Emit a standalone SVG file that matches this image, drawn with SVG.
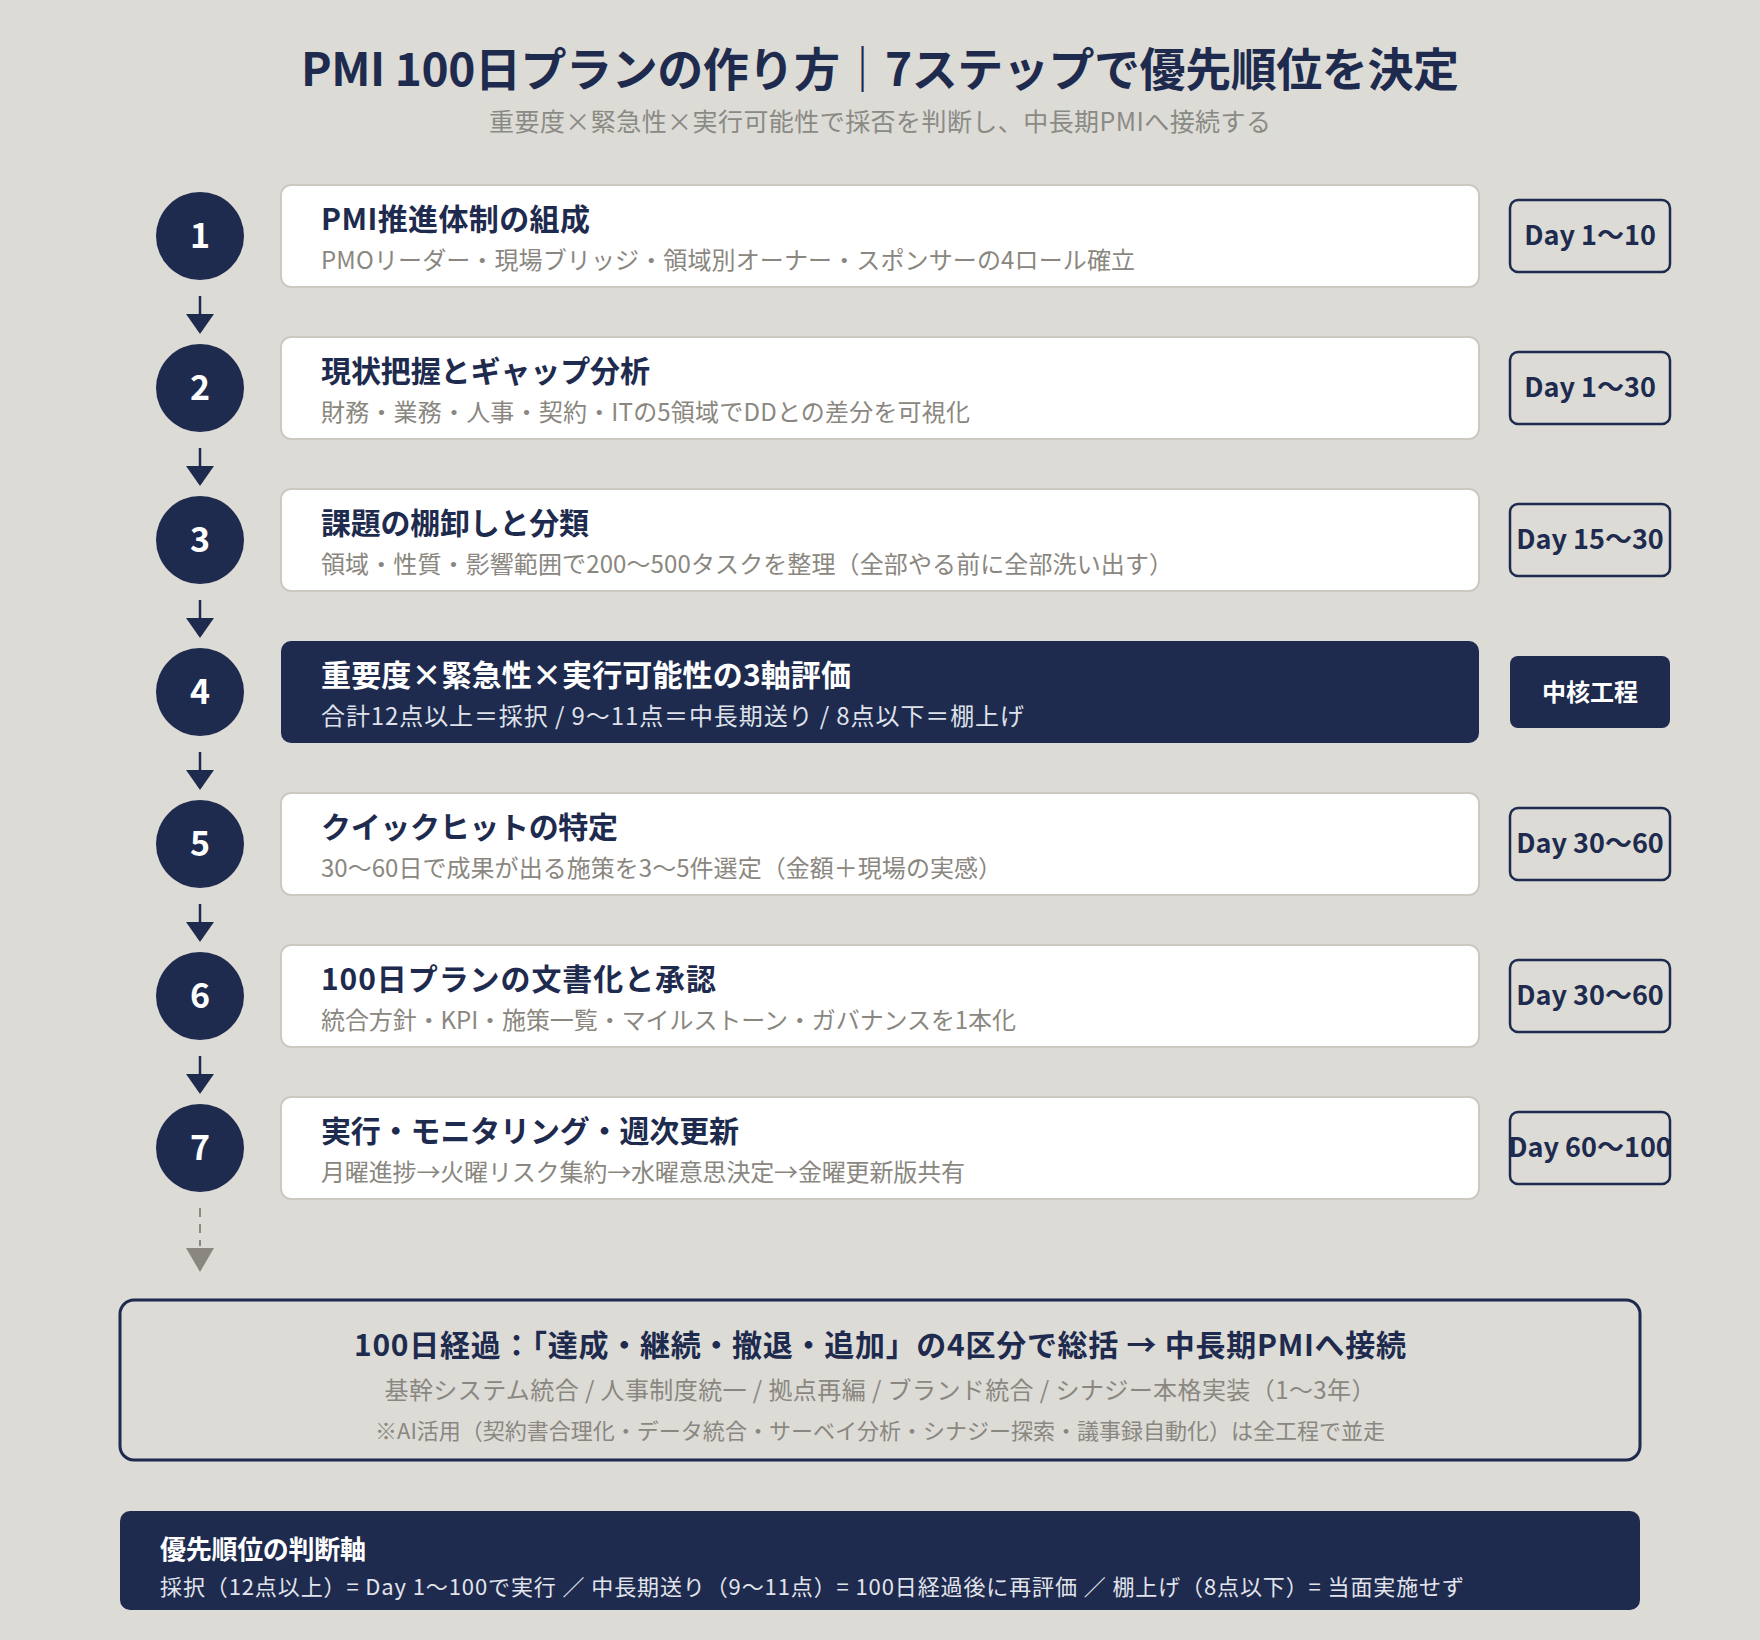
<svg xmlns="http://www.w3.org/2000/svg" width="1760" height="1640" viewBox="0 0 1760 1640">
<style>
text{font-family:"Noto Sans CJK JP","Noto Sans",sans-serif}
.bg{fill:#dcdbd6}
.card{fill:#ffffff;stroke:#cbc9c2;stroke-width:2}
.cardDark{fill:#1e2b4e}
.circ{fill:#1e2b4e}
.num{fill:#ffffff;font-size:34px;font-weight:700;text-anchor:middle}
.ttl{fill:#1e2b4e;font-size:30px;font-weight:700}
.sub{fill:#8a8780;font-size:24px}
.ttlW{fill:#ffffff;font-size:30px;font-weight:700}
.subW{fill:#dfe2ea;font-size:24px}
.badge{fill:none;stroke:#1e2b4e;stroke-width:2.5}
.badgeF{fill:#1e2b4e}
.btxt{fill:#1e2b4e;font-size:27px;font-weight:600;text-anchor:middle}
.btxtW{fill:#ffffff;font-size:24px;font-weight:700;text-anchor:middle}
.conn{stroke:#1e2b4e;stroke-width:2.5}
.head{fill:#1e2b4e}
</style>
<rect class="bg" x="0" y="0" width="1760" height="1640"/>
<g id="title">
<text x="880" y="86" text-anchor="middle" fill="#1e2b4e" font-size="46" font-weight="700" textLength="1158" lengthAdjust="spacing">PMI 100日プランの作り方｜7ステップで優先順位を決定</text>
<text x="880" y="131" text-anchor="middle" fill="#8a8a85" font-size="25" textLength="782" lengthAdjust="spacing">重要度×緊急性×実行可能性で採否を判断し、中長期PMIへ接続する</text>
</g>
<g id="connectors">
<line class="conn" x1="200" y1="296" x2="200" y2="316"/><polygon class="head" points="186,314 214,314 200,334"/>
<line class="conn" x1="200" y1="448" x2="200" y2="468"/><polygon class="head" points="186,466 214,466 200,486"/>
<line class="conn" x1="200" y1="600" x2="200" y2="620"/><polygon class="head" points="186,618 214,618 200,638"/>
<line class="conn" x1="200" y1="752" x2="200" y2="772"/><polygon class="head" points="186,770 214,770 200,790"/>
<line class="conn" x1="200" y1="904" x2="200" y2="924"/><polygon class="head" points="186,922 214,922 200,942"/>
<line class="conn" x1="200" y1="1056" x2="200" y2="1076"/><polygon class="head" points="186,1074 214,1074 200,1094"/>
<line x1="200" y1="1208" x2="200" y2="1246" stroke="#8a8780" stroke-width="2" stroke-dasharray="9,7"/><polygon points="186,1248 214,1248 200,1272" fill="#8a8780"/>
</g>
<g id="step1">
<circle class="circ" cx="200" cy="236" r="44"/><text class="num" x="200" y="248">1</text>
<rect class="card" x="281" y="185" width="1198" height="102" rx="10"/>
<text class="ttl" x="321" y="230" textLength="269" lengthAdjust="spacing">PMI推進体制の組成</text>
<text class="sub" x="321" y="269" textLength="814" lengthAdjust="spacing">PMOリーダー・現場ブリッジ・領域別オーナー・スポンサーの4ロール確立</text>
<rect class="badge" x="1510" y="200" width="160" height="72" rx="8"/><text class="btxt" x="1590" y="245">Day 1〜10</text>
</g>
<g id="step2">
<circle class="circ" cx="200" cy="388" r="44"/><text class="num" x="200" y="400">2</text>
<rect class="card" x="281" y="337" width="1198" height="102" rx="10"/>
<text class="ttl" x="321" y="382" textLength="329" lengthAdjust="spacing">現状把握とギャップ分析</text>
<text class="sub" x="321" y="421" textLength="649" lengthAdjust="spacing">財務・業務・人事・契約・ITの5領域でDDとの差分を可視化</text>
<rect class="badge" x="1510" y="352" width="160" height="72" rx="8"/><text class="btxt" x="1590" y="397">Day 1〜30</text>
</g>
<g id="step3">
<circle class="circ" cx="200" cy="540" r="44"/><text class="num" x="200" y="552">3</text>
<rect class="card" x="281" y="489" width="1198" height="102" rx="10"/>
<text class="ttl" x="321" y="534" textLength="268" lengthAdjust="spacing">課題の棚卸しと分類</text>
<text class="sub" x="321" y="573" textLength="852" lengthAdjust="spacing">領域・性質・影響範囲で200〜500タスクを整理（全部やる前に全部洗い出す）</text>
<rect class="badge" x="1510" y="504" width="160" height="72" rx="8"/><text class="btxt" x="1590" y="549">Day 15〜30</text>
</g>
<g id="step4">
<circle class="circ" cx="200" cy="692" r="44"/><text class="num" x="200" y="704">4</text>
<rect class="cardDark" x="281" y="641" width="1198" height="102" rx="10"/>
<text class="ttlW" x="321" y="686" textLength="530" lengthAdjust="spacing">重要度×緊急性×実行可能性の3軸評価</text>
<text class="subW" x="321" y="725" textLength="703" lengthAdjust="spacing">合計12点以上＝採択 / 9〜11点＝中長期送り / 8点以下＝棚上げ</text>
<rect class="badgeF" x="1510" y="656" width="160" height="72" rx="8"/><text class="btxtW" x="1590" y="701">中核工程</text>
</g>
<g id="step5">
<circle class="circ" cx="200" cy="844" r="44"/><text class="num" x="200" y="856">5</text>
<rect class="card" x="281" y="793" width="1198" height="102" rx="10"/>
<text class="ttl" x="321" y="838" textLength="297" lengthAdjust="spacing">クイックヒットの特定</text>
<text class="sub" x="321" y="877" textLength="681" lengthAdjust="spacing">30〜60日で成果が出る施策を3〜5件選定（金額＋現場の実感）</text>
<rect class="badge" x="1510" y="808" width="160" height="72" rx="8"/><text class="btxt" x="1590" y="853">Day 30〜60</text>
</g>
<g id="step6">
<circle class="circ" cx="200" cy="996" r="44"/><text class="num" x="200" y="1008">6</text>
<rect class="card" x="281" y="945" width="1198" height="102" rx="10"/>
<text class="ttl" x="321" y="990" textLength="395" lengthAdjust="spacing">100日プランの文書化と承認</text>
<text class="sub" x="321" y="1029" textLength="695" lengthAdjust="spacing">統合方針・KPI・施策一覧・マイルストーン・ガバナンスを1本化</text>
<rect class="badge" x="1510" y="960" width="160" height="72" rx="8"/><text class="btxt" x="1590" y="1005">Day 30〜60</text>
</g>
<g id="step7">
<circle class="circ" cx="200" cy="1148" r="44"/><text class="num" x="200" y="1160">7</text>
<rect class="card" x="281" y="1097" width="1198" height="102" rx="10"/>
<text class="ttl" x="321" y="1142" textLength="418" lengthAdjust="spacing">実行・モニタリング・週次更新</text>
<text class="sub" x="321" y="1181" textLength="644" lengthAdjust="spacing">月曜進捗→火曜リスク集約→水曜意思決定→金曜更新版共有</text>
<rect class="badge" x="1510" y="1112" width="160" height="72" rx="8"/><text class="btxt" x="1590" y="1157">Day 60〜100</text>
</g>
<g id="summary">
<rect x="120" y="1300" width="1520" height="160" rx="14" fill="none" stroke="#1e2b4e" stroke-width="3"/>
<text x="880" y="1356" text-anchor="middle" fill="#1e2b4e" font-size="30" font-weight="700" textLength="1052" lengthAdjust="spacing">100日経過：「達成・継続・撤退・追加」の4区分で総括 → 中長期PMIへ接続</text>
<text x="880" y="1399" text-anchor="middle" fill="#8a8780" font-size="24" textLength="991" lengthAdjust="spacing">基幹システム統合 / 人事制度統一 / 拠点再編 / ブランド統合 / シナジー本格実装（1〜3年）</text>
<text x="880" y="1439" text-anchor="middle" fill="#8a8780" font-size="22" textLength="1010" lengthAdjust="spacing">※AI活用（契約書合理化・データ統合・サーベイ分析・シナジー探索・議事録自動化）は全工程で並走</text>
</g>
<g id="legend">
<rect x="120" y="1511" width="1520" height="99" rx="10" fill="#1e2b4e"/>
<text x="160" y="1559" fill="#ffffff" font-size="26" font-weight="700" textLength="206" lengthAdjust="spacing">優先順位の判断軸</text>
<text x="160" y="1595" fill="#e2e4ec" font-size="22" textLength="1304" lengthAdjust="spacing">採択（12点以上）= Day 1〜100で実行 ／ 中長期送り（9〜11点）= 100日経過後に再評価 ／ 棚上げ（8点以下）= 当面実施せず</text>
</g>
</svg>
